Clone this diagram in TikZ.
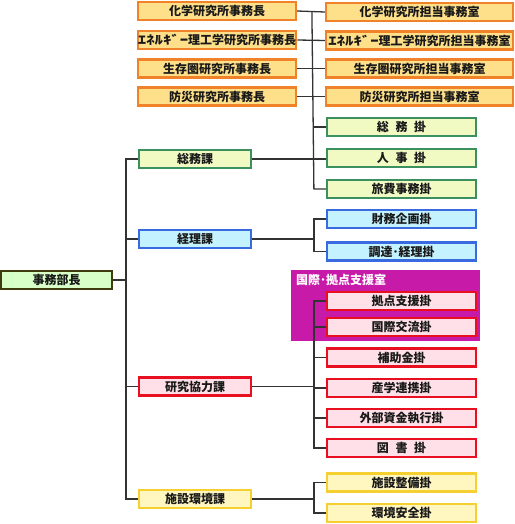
\documentclass[tikz,border=0pt]{standalone}
\usepackage{fontspec}
\usepackage{graphicx}
\newfontfamily\jp{Noto Sans CJK JP}
\definecolor{orB}{HTML}{F0822A}
\definecolor{orF}{HTML}{FFE08A}
\definecolor{grB}{HTML}{3C9060}
\definecolor{grF}{HTML}{F2FAC4}
\definecolor{blB}{HTML}{3A6AE0}
\definecolor{blF}{HTML}{C4F2FF}
\definecolor{pkB}{HTML}{E81020}
\definecolor{pkF}{HTML}{FFE0E8}
\definecolor{ylB}{HTML}{F5D030}
\definecolor{ylF}{HTML}{FFF6C0}
\definecolor{hdB}{HTML}{403C10}
\definecolor{hdF}{HTML}{D8FFC8}
\definecolor{mgF}{HTML}{C81AA8}
\definecolor{lnC}{HTML}{333333}
\tikzset{
  box/.style={draw, line width=2.2bp, inner sep=0pt, minimum height=18bp,
    font=\jp\bfseries\fontsize{12bp}{13bp}\selectfont, text=black!90},
  orbox/.style={box, draw=orB, fill=orF},
  grbox/.style={box, draw=grB, fill=grF},
  blbox/.style={box, draw=blB, fill=blF},
  pkbox/.style={box, draw=pkB, fill=pkF},
  ylbox/.style={box, draw=ylB, fill=ylF},
  hdbox/.style={box, draw=hdB, fill=hdF},
  lwide/.style={minimum width=158bp},
  rwide/.style={minimum width=187bp},
  cwide/.style={minimum width=149bp},
  mwide/.style={minimum width=112bp},
  conn/.style={draw=lnC, line width=1.3bp}
}
\newcommand{\jsp}{\hspace{0.55em}}
\newcommand{\enekana}{\scalebox{1.4}[1]{ｴﾈﾙｷﾞｰ}}
\begin{document}
\begin{tikzpicture}[x=1bp,y=-1bp]
\useasboundingbox (0,0) rectangle (515,524);
% magenta room
\node[fill=mgF, minimum width=189bp, minimum height=71bp, inner sep=0pt, anchor=north west] (room) at (291,270) {};
\node[anchor=west, text=white, font=\jp\bfseries\fontsize{12bp}{13bp}\selectfont, inner sep=0pt] (roomt) at (296,280) {国際･拠点支援室};
% nodes
\node[orbox, lwide] (L1) at (217,11) {化学研究所事務長};
\node[orbox, lwide] (L2) at (217,40) {\enekana 理工学研究所事務長};
\node[orbox, lwide] (L3) at (217,68.5) {生存圏研究所事務長};
\node[orbox, lwide] (L4) at (217,96.5) {防災研究所事務長};
\node[orbox, rwide] (R1) at (419.5,12) {化学研究所担当事務室};
\node[orbox, rwide] (R2) at (419.5,40.5) {\enekana 理工学研究所担当事務室};
\node[orbox, rwide] (R3) at (419.5,68.5) {生存圏研究所担当事務室};
\node[orbox, rwide] (R4) at (419.5,96.5) {防災研究所担当事務室};

\node[hdbox, minimum width=111bp] (head) at (56.5,280) {事務部長};

\node[grbox, mwide] (soumuka) at (195,159) {総務課};
\node[blbox, mwide] (keiri) at (195,239) {経理課};
\node[pkbox, mwide] (kenkyu) at (195,386.5) {研究協力課};
\node[ylbox, mwide] (shisetsu) at (195,499) {施設環境課};

\node[grbox, cwide] (g1) at (401.5,127) {総\jsp 務\jsp 掛};
\node[grbox, cwide] (g2) at (401.5,158) {人\jsp 事\jsp 掛};
\node[grbox, cwide] (g3) at (401.5,189) {旅費事務掛};
\node[blbox, cwide] (b1) at (401.5,219) {財務企画掛};
\node[blbox, cwide] (b2) at (401.5,251.5) {調達･経理掛};
\node[pkbox, cwide] (p1) at (401.5,301) {拠点支援掛};
\node[pkbox, cwide] (p2) at (401.5,327) {国際交流掛};
\node[pkbox, cwide] (p3) at (401.5,357.5) {補助金掛};
\node[pkbox, cwide] (p4) at (401.5,388) {産学連携掛};
\node[pkbox, cwide] (p5) at (401.5,418) {外部資金執行掛};
\node[pkbox, cwide] (p6) at (401.5,448) {図\jsp 書\jsp 掛};
\node[ylbox, cwide] (y1) at (401.5,482.5) {施設整備掛};
\node[ylbox, cwide] (y2) at (401.5,513) {環境安全掛};

% connectors: research institutes and general affairs
\path[conn] (L1.east) -- (R1.west);
\path[conn] (L2.east) -- (R2.west);
\path[conn] (L3.east) -- (R3.west);
\path[conn] (L4.east) -- (R4.west);
\path[conn] ([xshift=-13bp]R1.west) -- ([xshift=-12bp]g3.west) -- (g3.west);
\path[conn] ([xshift=-12bp]g1.west) -- (g1.west);
\path[conn] (soumuka.east) -- (soumuka.east -| g2.west);
% accounting
\path[conn] (b1.west) -- ++(-12bp,0) |- (b2.west);
\path[conn] (keiri.east) -- ([xshift=-12bp]keiri.east -| b1.west);
% research cooperation
\path[conn] (p1.west) -- ++(-12bp,0) |- (p6.west);
\path[conn] ([xshift=-12bp]p2.west) -- (p2.west);
\path[conn] ([xshift=-12bp]p3.west) -- (p3.west);
\path[conn] ([xshift=-12bp]p4.west) -- (p4.west);
\path[conn] ([xshift=-12bp]p5.west) -- (p5.west);
\path[conn] (kenkyu.east) -- ([xshift=-12bp]kenkyu.east -| p1.west);
% facilities
\path[conn] (y1.west) -- ++(-12bp,0) |- (y2.west);
\path[conn] (shisetsu.east) -- ([xshift=-12bp]shisetsu.east -| y1.west);
% main trunk
\path[conn] (soumuka.west) -- ++(-12bp,0) |- (shisetsu.west);
\path[conn] ([xshift=-12bp]keiri.west) -- (keiri.west);
\path[conn] ([xshift=-12bp]kenkyu.west) -- (kenkyu.west);
\path[conn] (head.east) -- ([xshift=-12bp]head.east -| keiri.west);
\end{tikzpicture}
\end{document}
